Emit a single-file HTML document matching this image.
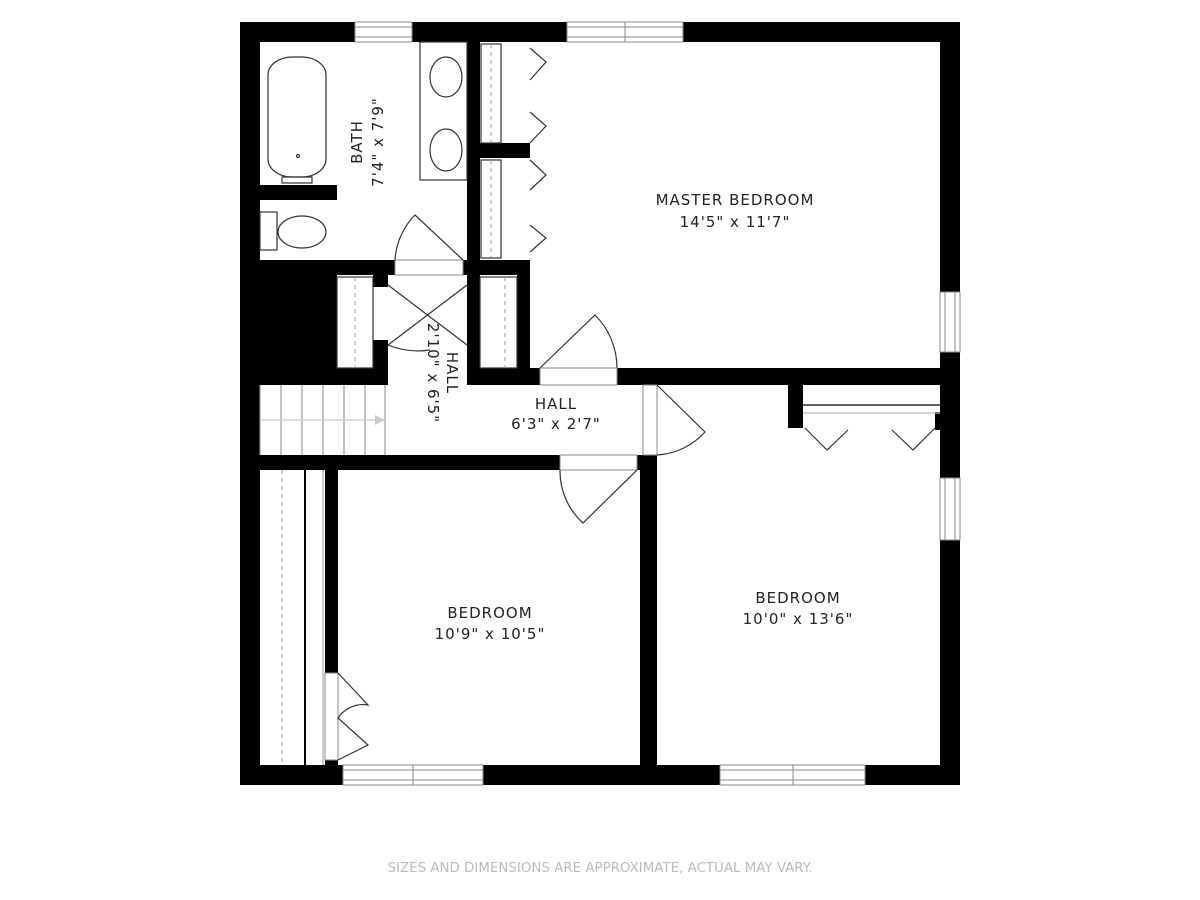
<!DOCTYPE html>
<html><head><meta charset="utf-8"><style>
html,body{margin:0;padding:0;background:#fff;width:1200px;height:900px;overflow:hidden}
svg{display:block}
text{font-family:"DejaVu Sans","Liberation Sans",sans-serif;fill:#222;font-size:15px;letter-spacing:1px;text-anchor:middle}
</style></head><body>
<svg width="1200" height="900" viewBox="0 0 1200 900" xmlns="http://www.w3.org/2000/svg">
<g fill="#000">
<rect x="240" y="22" width="720" height="20"/>
<rect x="240" y="765" width="720" height="20"/>
<rect x="240" y="22" width="20" height="763"/>
<rect x="940" y="22" width="20" height="763"/>
<rect x="260" y="185" width="77" height="15"/>
<rect x="467" y="42" width="13" height="343"/>
<rect x="480" y="143" width="50" height="15"/>
<rect x="260" y="260" width="135" height="15"/>
<rect x="463" y="260" width="17" height="15"/>
<rect x="260" y="275" width="77" height="110"/>
<rect x="260" y="368" width="125" height="17"/>
<rect x="373" y="275" width="15" height="12"/>
<rect x="373" y="340" width="15" height="45"/>
<rect x="467" y="275" width="13" height="12"/>
<rect x="467" y="340" width="13" height="45"/>
<rect x="517" y="260" width="13" height="125"/>
<rect x="480" y="260" width="50" height="15"/>
<rect x="467" y="368" width="73" height="17"/>
<rect x="617" y="368" width="343" height="17"/>
<rect x="240" y="455" width="320" height="15"/>
<rect x="637" y="455" width="20" height="15"/>
<rect x="640" y="455" width="17" height="310"/>
<rect x="643" y="368" width="14" height="17"/>
<rect x="325" y="470" width="13" height="203"/>
<rect x="325" y="760" width="13" height="10"/>
<rect x="788" y="384" width="15" height="44"/>
<rect x="935" y="412" width="5" height="18"/>
</g>
<g fill="#fff" stroke="#888" stroke-width="1">
<rect x="355" y="22" width="57" height="20"/>
<line x1="355" y1="27" x2="412" y2="27"/><line x1="355" y1="37" x2="412" y2="37"/>
<rect x="567" y="22" width="116" height="20"/>
<line x1="625" y1="22" x2="625" y2="42"/><line x1="567" y1="27" x2="683" y2="27"/><line x1="567" y1="37" x2="683" y2="37"/>
<rect x="940" y="292" width="20" height="60"/><line x1="945" y1="292" x2="945" y2="352"/><line x1="955" y1="292" x2="955" y2="352"/>
<rect x="940" y="478" width="20" height="62"/><line x1="945" y1="478" x2="945" y2="540"/><line x1="955" y1="478" x2="955" y2="540"/>
<rect x="343" y="765" width="140" height="20"/><line x1="413" y1="765" x2="413" y2="785"/><line x1="343" y1="770" x2="483" y2="770"/><line x1="343" y1="780" x2="483" y2="780"/>
<rect x="720" y="765" width="145" height="20"/><line x1="793" y1="765" x2="793" y2="785"/><line x1="720" y1="770" x2="865" y2="770"/><line x1="720" y1="780" x2="865" y2="780"/>
<rect x="395" y="260" width="68" height="15"/>
<rect x="540" y="368" width="77" height="17"/>
<rect x="560" y="455" width="77" height="15"/>
<rect x="643" y="385" width="14" height="70"/>
<rect x="325" y="673" width="13" height="87"/>
</g>
<g fill="none" stroke="#333" stroke-width="1.2">
<rect x="268" y="57" width="58" height="120" rx="24" ry="18"/>
<circle cx="298" cy="156" r="1.5"/>
<rect x="282" y="177" width="30" height="6"/>
<rect x="260" y="212" width="17" height="38"/>
<ellipse cx="302" cy="232" rx="24" ry="16"/>
<rect x="420" y="42" width="47" height="138"/>
<ellipse cx="446" cy="77" rx="16" ry="20"/>
<ellipse cx="446" cy="150" rx="16" ry="21"/>
<rect x="481" y="44" width="20" height="99"/>
<rect x="481" y="160" width="20" height="98"/>
<path d="M530 48 L546 62 L530 80 M530 112 L546 126 L530 143 M530 160 L546 175 L530 190 M530 225 L546 238 L530 252"/>
<rect x="337" y="277" width="36" height="91"/>
<rect x="480" y="277" width="37" height="91"/>
<path d="M395 260 A70 70 0 0 1 415 215 L463 260"/>
<path d="M388 285 L467 345 M467 285 L388 345 M388 345 A80 80 0 0 0 430 350"/>
<path d="M540 368 L595 315 A75 75 0 0 1 617 368"/>
<path d="M657 385 L705 432 A70 70 0 0 1 657 455"/>
<path d="M637 470 L583 523 A70 70 0 0 1 560 470"/>
<path d="M338 673 L368 705 A30 30 0 0 0 338 718 L368 745 L338 760"/>
<line x1="803" y1="405" x2="940" y2="405" stroke="#000"/>
<line x1="803" y1="413" x2="940" y2="413" stroke="#bbb"/>
<path d="M805 428 L827 450 L848 430 M892 430 L913 450 L935 428"/>
<line x1="305" y1="470" x2="305" y2="765" stroke="#000" stroke-width="2"/>
<line x1="323" y1="470" x2="323" y2="765" stroke="#aaa"/>
<path d="M260 385 V455 M281 385 V455 M302 385 V455 M323 385 V455 M344 385 V455 M365 385 V455 M385 385 V455" stroke="#999"/>
<line x1="260" y1="420" x2="378" y2="420" stroke="#ccc"/>
</g>
<polygon points="375,415 385,420 375,425" fill="#ccc"/>
<g stroke="#999" stroke-dasharray="4 4" stroke-width="1">
<line x1="491" y1="44" x2="491" y2="143"/><line x1="491" y1="160" x2="491" y2="258"/>
<line x1="355" y1="277" x2="355" y2="368"/><line x1="505" y1="277" x2="505" y2="368"/>
<line x1="282" y1="470" x2="282" y2="765"/>
</g>
<text x="735" y="205">MASTER BEDROOM</text>
<text x="735" y="227">14'5" x 11'7"</text>
<text transform="translate(362,142) rotate(-90)">BATH</text>
<text transform="translate(383,142) rotate(-90)">7'4" x 7'9"</text>
<text transform="translate(447,373) rotate(90)">HALL</text>
<text transform="translate(428,373) rotate(90)">2'10" x 6'5"</text>
<text x="556" y="409">HALL</text>
<text x="556" y="429">6'3" x 2'7"</text>
<text x="490" y="618">BEDROOM</text>
<text x="490" y="639">10'9" x 10'5"</text>
<text x="798" y="603">BEDROOM</text>
<text x="798" y="624">10'0" x 13'6"</text>
<text x="600" y="872" style="font-size:13.4px;letter-spacing:0;fill:#bbb">SIZES AND DIMENSIONS ARE APPROXIMATE, ACTUAL MAY VARY.</text>
</svg>
</body></html>
